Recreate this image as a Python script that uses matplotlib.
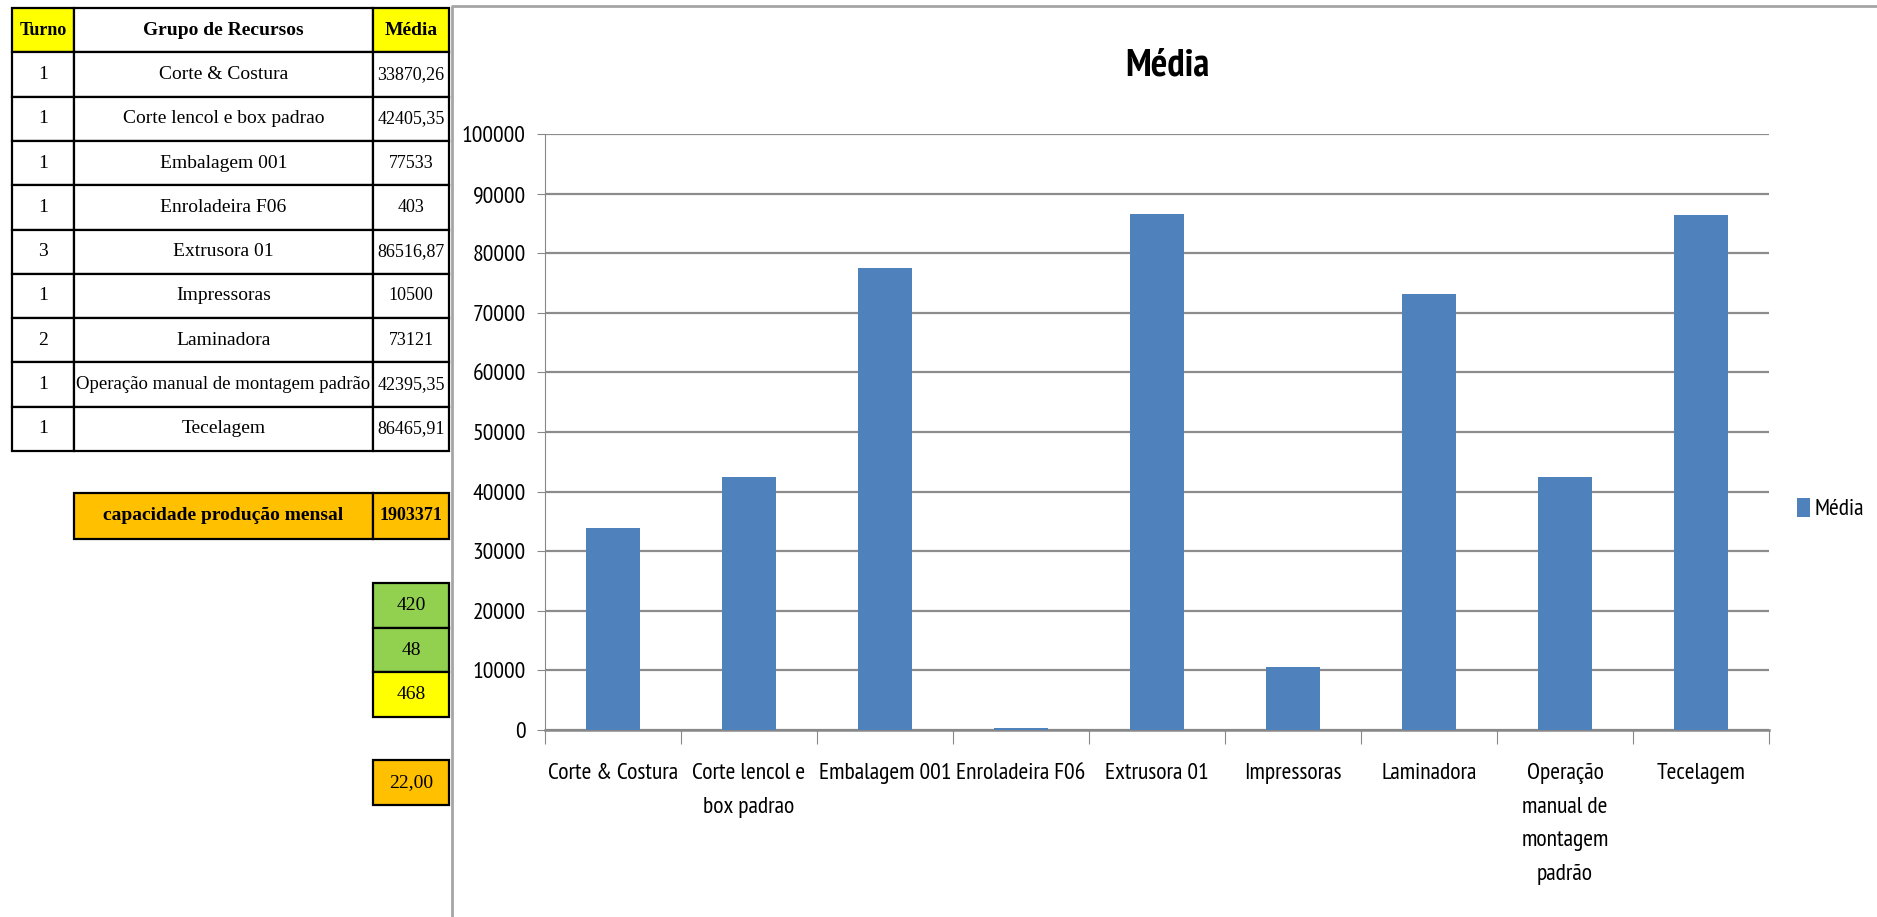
import matplotlib.pyplot as plt
from matplotlib.patches import Rectangle
from matplotlib.font_manager import FontProperties

categories = ["Corte & Costura", "Corte lencol e box padrao", "Embalagem 001",
              "Enroladeira F06", "Extrusora 01", "Impressoras", "Laminadora",
              "Operação manual de montagem padrão", "Tecelagem"]
tick_labels = ["Corte & Costura", "Corte lencol e\nbox padrao", "Embalagem 001",
               "Enroladeira F06", "Extrusora 01", "Impressoras", "Laminadora",
               "Operação\nmanual de\nmontagem\npadrão", "Tecelagem"]
turno = [1, 1, 1, 1, 3, 1, 2, 1, 1]
media = [33870.26, 42405.35, 77533, 403, 86516.87, 10500, 73121, 42395.35, 86465.91]
capacidade = 1903371
extras = ["420", "48", "468"]
dias = "22,00"


def fmt(v):
    if float(v).is_integer():
        return str(int(v))
    return f"{v:.2f}".replace(".", ",")


W, H = 1877, 917
fig = plt.figure(figsize=(W / 100, H / 100), dpi=100)

narrow = "PT Sans Narrow"
serif = "Liberation Serif"

# sheet layer, pixel coords
bg = fig.add_axes([0, 0, 1, 1])
bg.set_xlim(0, W)
bg.set_ylim(H, 0)
bg.axis("off")


def cell(x0, x1, y0, y1, text, color="white", bold=False, size=14):
    bg.add_patch(Rectangle((x0, y0), x1 - x0, y1 - y0, facecolor=color,
                           edgecolor="black", lw=1.6))
    bg.text((x0 + x1) / 2, (y0 + y1) / 2, text, ha="center", va="center",
            family=serif, fontsize=size, fontweight="bold" if bold else "normal")


cols = [12, 74, 373, 449]
top, bottom = 8, 451
row_h = (bottom - top) / (len(categories) + 1)
cell(cols[0], cols[1], top, top + row_h, "Turno", "#FFFF00", True, 13)
cell(cols[1], cols[2], top, top + row_h, "Grupo de Recursos", bold=True)
cell(cols[2], cols[3], top, top + row_h, "Média", "#FFFF00", True)
for i, (t, g, m) in enumerate(zip(turno, categories, media)):
    y0 = top + row_h * (i + 1)
    cell(cols[0], cols[1], y0, y0 + row_h, str(t))
    cell(cols[1], cols[2], y0, y0 + row_h, g, size=13.5 if len(g) > 30 else 14)
    cell(cols[2], cols[3], y0, y0 + row_h, fmt(m), size=13)

cell(cols[1], cols[2], 493, 539, "capacidade produção mensal", "#FFC000", True)
cell(cols[2], cols[3], 493, 539, str(capacidade), "#FFC000", True, 13)
for i, (val, c) in enumerate(zip(extras, ["#92D050", "#92D050", "#FFFF00"])):
    y0 = 583 + i * 44.7
    cell(cols[2], cols[3], y0, y0 + 44.7, val, c)
cell(cols[2], cols[3], 760, 805, dias, "#FFC000")

# chart frame
bg.plot([452, 452, W], [H, 6, 6], color="#a6a6a6", lw=2)

# chart
left, right, ytop, ybot = 545, 1769, 134, 730
ax = fig.add_axes([left / W, 1 - ybot / H, (right - left) / W, (ybot - ytop) / H])
x = list(range(len(categories)))
bars = ax.bar(x, media, width=0.4, color="#4F81BD", label="Média", zorder=3)
ax.set_xlim(-0.5, len(categories) - 0.5)
ax.set_ylim(0, 100000)
ax.set_yticks(range(0, 100001, 10000))
ax.tick_params(axis="y", labelsize=17, length=6, color="#888888", pad=8)
for lab in ax.get_yticklabels():
    lab.set_family(narrow)
ax.yaxis.grid(True, color="#8c8c8c", lw=1.6)
ax.set_axisbelow(True)

ax.set_xticks([i - 0.5 for i in range(len(categories) + 1)])
ax.set_xticklabels([])
ax.tick_params(axis="x", which="major", length=10, color="#888888")
ax.set_xticks(x, minor=True)
ax.set_xticklabels(tick_labels, minor=True, family=narrow, fontsize=17,
                   linespacing=1.78, va="top")
ax.tick_params(axis="x", which="minor", length=0, pad=24)

for s in ["top", "right"]:
    ax.spines[s].set_visible(False)
ax.spines["left"].set_color("#888888")
ax.spines["bottom"].set_color("#888888")
ax.spines["bottom"].set_linewidth(1.8)

fig.text(1167 / W, 1 - 66 / H, "Média", ha="center", va="center",
         family=narrow, fontsize=28, fontweight="bold")
fig.legend(handles=[bars], labels=["Média"], loc="center left",
           bbox_to_anchor=(1797 / W, 1 - 509 / H), frameon=False,
           borderaxespad=0, borderpad=0,
           prop=FontProperties(family=narrow, size=17),
           handlelength=0.55, handleheight=0.9, handletextpad=0.2)

fig.savefig("out.png", dpi=100)
